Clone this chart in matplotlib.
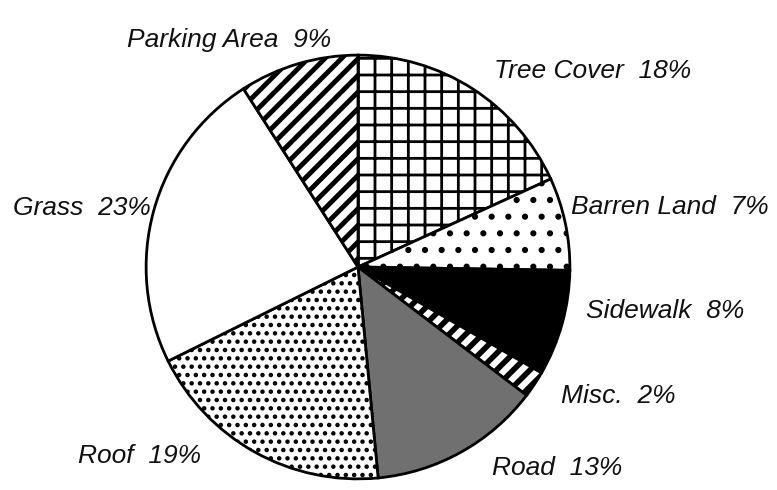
import matplotlib.pyplot as plt

labels = ['Tree Cover', 'Barren Land', 'Sidewalk', 'Misc.', 'Road', 'Roof', 'Grass', 'Parking Area']
values = [18, 7, 8, 2, 13, 19, 23, 9]

fills = ['white', 'white', 'black', 'white', '#707070', 'white', 'white', 'white']
hatches = ['+', '.', None, '//', None, '..', None, '//']
hatch_lw = [2.0, 2.0, 2.0, 4.0, 2.0, 2.0, 2.0, 3.5]

# label left/centre points (data units, pie radius = 1)
lab_x = [0.640, 1.005, 1.075, 0.958, 0.631, -1.322, -1.626, -1.089]
lab_y = [0.925, 0.285, -0.206, -0.607, -0.949, -0.893, 0.280, 1.070]

plt.rcParams['hatch.linewidth'] = 2.0
plt.rcParams['font.family'] = ['Liberation Sans', 'DejaVu Sans']

fig = plt.figure(figsize=(7.77, 4.9), dpi=100)
ax = fig.add_axes([(358 - 214) / 777, (490 - 267 - 214) / 490, 428 / 777, 428 / 490])

wedges, _ = ax.pie(values, startangle=90, counterclock=False, radius=1,
                   colors=fills, wedgeprops=dict(edgecolor='black', linewidth=2))
for w, h, lw in zip(wedges, hatches, hatch_lw):
    if h:
        w.set_hatch(h)
        if hasattr(w, 'set_hatch_linewidth'):
            w.set_hatch_linewidth(lw)

for i in range(len(labels)):
    ax.text(lab_x[i], lab_y[i], '%s  %d%%' % (labels[i], values[i]), ha='left', va='center',
            fontsize=19, style='italic', color='#111111', clip_on=False)

ax.set_xlim(-1.01, 1.01)
ax.set_ylim(-1.01, 1.01)
ax.set_aspect('auto')
ax.axis('off')

fig.savefig('out.png', dpi=100)
